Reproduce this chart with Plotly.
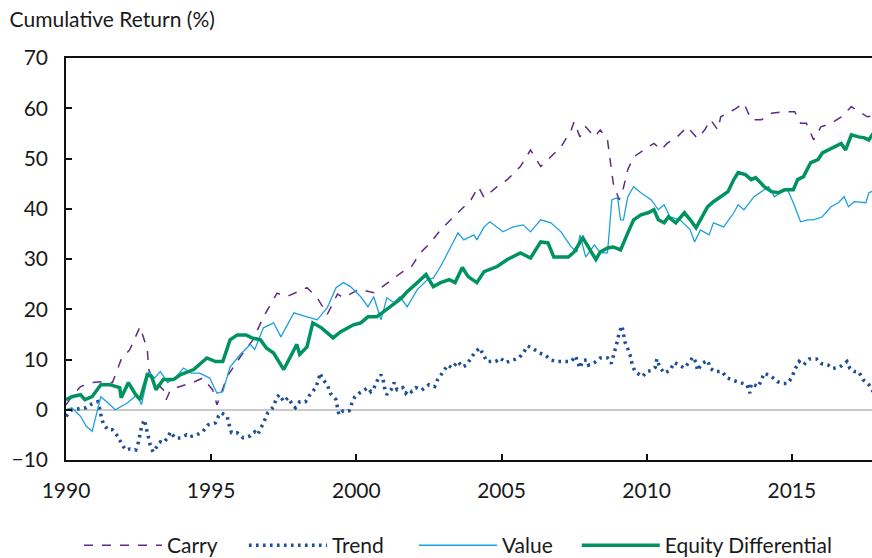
import plotly.graph_objects as go

# ---------------- data ----------------
carry_year = [1990.0, 1990.25, 1990.5, 1990.9, 1991.3, 1991.6, 1991.9, 1992.2, 1992.55, 1992.8,
              1992.85, 1993.0, 1993.35, 1993.45, 1993.6, 1993.9, 1994.4, 1994.7, 1995.05, 1995.2,
              1995.55, 1996.0, 1996.45, 1996.8, 1997.27, 1997.6, 1997.8, 1998.3, 1998.65, 1999.0,
              1999.35, 1999.55, 2000.1, 2000.6, 2000.9, 2001.3, 2001.6, 2001.9, 2002.2, 2002.55,
              2002.9, 2003.25, 2003.6, 2003.95, 2004.2, 2004.4, 2004.85, 2005.2, 2005.65, 2006.0,
              2006.35, 2006.7, 2007.05, 2007.4, 2007.5, 2007.7, 2007.9, 2008.2, 2008.4, 2008.65,
              2008.75, 2008.85, 2009.05, 2009.15, 2009.35, 2009.55, 2009.9, 2010.25, 2010.5, 2010.7,
              2011.05, 2011.4, 2011.75, 2012.0, 2012.2, 2012.45, 2012.55, 2013.0, 2013.35, 2013.6,
              2013.95, 2014.3, 2014.7, 2015.1, 2015.3, 2015.5, 2015.75, 2016.0, 2016.35, 2016.7,
              2017.05, 2017.4, 2017.6, 2017.8]
carry_val = [1.0, 3.0, 4.6, 5.4, 5.6, 5.4, 10.0, 12.0, 16.5, 12.0,
             8.0, 6.0, 4.0, 2.0, 4.0, 4.6, 5.5, 6.3, 4.0, 1.0,
             6.6, 10.5, 14.0, 18.5, 23.2, 22.5, 23.0, 24.3, 22.3, 19.0,
             23.0, 22.3, 24.0, 23.3, 24.5, 26.2, 27.5, 28.5, 31.2, 33.2,
             35.8, 37.8, 39.8, 41.8, 44.4, 42.2, 44.4, 45.8, 48.4, 51.7,
             48.4, 50.3, 52.3, 55.7, 57.3, 54.3, 56.3, 54.3, 55.7, 53.7,
             49.0, 45.0, 41.8, 43.0, 47.8, 50.3, 51.7, 53.0, 51.7, 53.0,
             54.3, 56.3, 54.0, 55.7, 57.7, 55.7, 58.3, 59.7, 61.0, 57.7,
             57.7, 59.0, 59.3, 59.3, 57.0, 57.0, 53.7, 56.3, 57.0, 58.3,
             60.3, 59.0, 58.3, 58.5]

trend_year = [1990.0, 1990.2, 1990.45, 1990.7, 1990.9, 1991.1, 1991.17, 1991.22, 1991.3, 1991.45,
              1991.6, 1991.8, 1991.9, 1992.05, 1992.2, 1992.4, 1992.5, 1992.6, 1992.7, 1992.77,
              1992.85, 1992.9, 1993.0, 1993.1, 1993.25, 1993.35, 1993.5, 1993.6, 1993.75, 1993.95,
              1994.15, 1994.25, 1994.5, 1994.7, 1994.9, 1995.15, 1995.25, 1995.35, 1995.55, 1995.62,
              1995.7, 1995.9, 1996.1, 1996.35, 1996.5, 1996.6, 1996.7, 1996.8, 1996.95, 1997.15,
              1997.25, 1997.35, 1997.5, 1997.65, 1997.8, 1997.9, 1998.05, 1998.25, 1998.4, 1998.6,
              1998.7, 1998.75, 1998.85, 1999.0, 1999.1, 1999.3, 1999.35, 1999.4, 1999.55, 1999.75,
              1999.85, 1999.95, 2000.1, 2000.4, 2000.5, 2000.6, 2000.7, 2000.85, 2000.92, 2000.97,
              2001.05, 2001.2, 2001.3, 2001.4, 2001.6, 2001.7, 2001.8, 2001.9, 2002.05, 2002.25,
              2002.5, 2002.7, 2002.8, 2002.95, 2003.15, 2003.3, 2003.5, 2003.65, 2003.8, 2003.95,
              2004.1, 2004.25, 2004.4, 2004.5, 2004.8, 2004.95, 2005.15, 2005.4, 2005.6, 2005.75,
              2005.9, 2006.1, 2006.3, 2006.5, 2006.7, 2006.9, 2007.2, 2007.4, 2007.55, 2007.62,
              2007.7, 2007.8, 2007.95, 2008.0, 2008.2, 2008.4, 2008.65, 2008.78, 2008.85, 2008.95,
              2009.0, 2009.05, 2009.15, 2009.2, 2009.25, 2009.35, 2009.45, 2009.5, 2009.6, 2009.85,
              2010.0, 2010.15, 2010.3, 2010.35, 2010.45, 2010.6, 2010.8, 2010.95, 2011.1, 2011.3,
              2011.45, 2011.6, 2011.7, 2011.75, 2011.9, 2012.1, 2012.2, 2012.35, 2012.6, 2012.75,
              2013.0, 2013.25, 2013.45, 2013.55, 2013.6, 2013.85, 2013.95, 2014.05, 2014.3, 2014.5,
              2014.7, 2014.85, 2015.0, 2015.1, 2015.25, 2015.4, 2015.6, 2015.85, 2016.0, 2016.25,
              2016.4, 2016.65, 2016.9, 2017.0, 2017.15, 2017.3, 2017.45, 2017.65, 2017.8]
trend_val = [-1.3, 0.0, 0.2, 0.4, 1.2, 1.6, 0.0, -1.6, -3.0, -4.0,
             -4.0, -5.4, -6.6, -8.0, -7.8, -8.0, -6.4, -3.4, -2.0, -3.6,
             -5.4, -7.0, -8.4, -7.6, -6.4, -6.6, -5.6, -4.4, -5.6, -5.6,
             -5.0, -5.4, -5.0, -4.4, -3.0, -2.6, -1.3, -0.6, -1.3, -3.0,
             -4.6, -4.6, -5.6, -5.2, -4.4, -5.0, -3.6, -2.6, -0.6, 0.6,
             2.4, 3.0, 1.6, 2.4, 1.0, 0.4, 1.6, 1.6, 3.0, 4.4,
             6.0, 7.3, 6.0, 5.0, 3.3, 2.0, 0.4, -1.0, -0.2, -0.2,
             1.4, 2.6, 3.3, 4.4, 3.6, 4.2, 5.6, 7.0, 6.0, 4.4,
             3.0, 4.0, 5.4, 4.0, 4.4, 3.3, 4.0, 3.6, 4.4, 3.9,
             5.0, 4.6, 6.0, 7.3, 8.9, 8.3, 9.6, 8.5, 8.9, 10.3,
             11.5, 12.3, 10.5, 9.6, 9.6, 10.3, 9.4, 9.9, 10.3, 11.3,
             12.7, 12.1, 11.3, 10.9, 9.9, 9.6, 9.6, 9.6, 10.7, 9.4,
             8.3, 9.8, 9.9, 8.9, 9.4, 10.3, 10.3, 9.2, 10.7, 12.3,
             13.9, 15.3, 16.7, 15.1, 13.5, 12.1, 10.5, 8.9, 7.6, 6.6,
             7.6, 7.8, 8.5, 10.1, 8.5, 7.3, 7.8, 9.4, 8.9, 8.3,
             9.4, 10.5, 9.4, 7.8, 9.2, 9.8, 8.2, 7.6, 7.6, 6.4,
             5.8, 5.4, 5.0, 3.3, 5.2, 4.6, 6.2, 7.3, 6.6, 5.6,
             5.2, 5.2, 6.4, 8.0, 9.6, 8.9, 10.1, 10.1, 9.2, 8.9,
             8.2, 8.5, 9.6, 8.2, 7.6, 7.6, 6.0, 5.0, 3.6]

value_year = [1990.0, 1990.2, 1990.5, 1990.7, 1990.9, 1991.2, 1991.4, 1991.7, 1992.1, 1992.45,
              1992.6, 1992.85, 1993.05, 1993.25, 1993.5, 1993.75, 1994.05, 1994.3, 1994.6, 1994.95,
              1995.2, 1995.4, 1995.65, 1996.0, 1996.35, 1996.5, 1996.8, 1997.15, 1997.4, 1997.85,
              1998.3, 1998.65, 1999.0, 1999.3, 1999.55, 1999.8, 2000.15, 2000.4, 2000.6, 2000.85,
              2001.05, 2001.3, 2001.5, 2001.75, 2002.1, 2002.45, 2002.65, 2002.9, 2003.25, 2003.5,
              2003.7, 2004.05, 2004.15, 2004.4, 2004.6, 2004.95, 2005.05, 2005.4, 2005.75, 2006.0,
              2006.35, 2006.7, 2007.05, 2007.4, 2007.6, 2007.7, 2007.9, 2008.2, 2008.4, 2008.65,
              2008.8, 2009.0, 2009.1, 2009.2, 2009.35, 2009.55, 2009.8, 2010.15, 2010.4, 2010.6,
              2010.8, 2011.15, 2011.5, 2011.65, 2011.85, 2012.15, 2012.3, 2012.65, 2013.0, 2013.15,
              2013.35, 2013.7, 2014.05, 2014.2, 2014.4, 2014.6, 2014.85, 2015.05, 2015.3, 2015.55,
              2015.75, 2016.05, 2016.35, 2016.6, 2016.8, 2016.95, 2017.15, 2017.55, 2017.65, 2017.8]
value_val = [0.0, 0.4, -1.3, -3.3, -4.3, 2.6, 1.6, 0.0, 1.3, 3.0,
             1.0, 7.6, 6.3, 7.6, 5.4, 6.3, 8.3, 7.3, 7.3, 6.3,
             3.3, 3.6, 8.5, 11.0, 13.0, 12.0, 16.3, 17.3, 14.5, 19.3,
             18.5, 17.9, 20.3, 24.3, 25.3, 24.5, 22.5, 20.5, 22.5, 17.9,
             22.3, 21.3, 22.5, 20.5, 23.9, 25.9, 26.2, 28.5, 32.4, 35.2,
             33.8, 34.8, 33.8, 36.4, 37.4, 35.8, 35.4, 36.4, 36.8, 35.4,
             37.8, 37.2, 35.4, 32.4, 31.4, 34.8, 30.4, 32.8, 31.2, 31.2,
             41.8, 42.2, 37.8, 37.8, 42.4, 44.4, 43.2, 41.8, 39.8, 40.8,
             38.4, 37.8, 35.8, 33.4, 35.8, 34.8, 37.2, 36.4, 39.2, 40.8,
             39.8, 42.4, 43.8, 44.4, 42.4, 43.2, 43.8, 41.2, 37.4, 37.8,
             37.8, 38.4, 40.4, 41.2, 42.4, 40.4, 41.4, 41.2, 43.2, 43.5]

equity_year = [1990.0, 1990.2, 1990.5, 1990.65, 1990.9, 1991.2, 1991.5, 1991.85, 1991.9, 1992.15,
               1992.4, 1992.55, 1992.8, 1992.95, 1993.1, 1993.35, 1993.7, 1993.95, 1994.4, 1994.85,
               1995.15, 1995.4, 1995.65, 1995.9, 1996.2, 1996.4, 1996.7, 1996.9, 1997.15, 1997.5,
               1997.85, 1997.95, 1998.05, 1998.3, 1998.5, 1998.8, 1999.0, 1999.2, 1999.45, 1999.8,
               1999.9, 2000.15, 2000.4, 2000.7, 2001.05, 2001.4, 2001.6, 2001.75, 2002.1, 2002.4,
               2002.65, 2002.9, 2003.2, 2003.4, 2003.65, 2003.85, 2004.15, 2004.4, 2004.85, 2005.2,
               2005.65, 2006.0, 2006.35, 2006.6, 2006.8, 2007.3, 2007.5, 2007.7, 2007.8, 2008.05,
               2008.25, 2008.4, 2008.65, 2008.85, 2009.1, 2009.35, 2009.55, 2009.8, 2010.05, 2010.25,
               2010.4, 2010.6, 2010.75, 2011.0, 2011.3, 2011.5, 2011.7, 2011.85, 2012.1, 2012.3,
               2012.55, 2012.8, 2013.0, 2013.15, 2013.4, 2013.6, 2013.75, 2014.05, 2014.3, 2014.55,
               2014.75, 2015.05, 2015.2, 2015.4, 2015.65, 2015.9, 2016.05, 2016.25, 2016.45, 2016.7,
               2016.85, 2017.05, 2017.3, 2017.5, 2017.65, 2017.8]
equity_val = [2.0, 2.6, 3.0, 2.0, 2.6, 5.0, 5.0, 4.4, 2.4, 5.4,
              3.0, 2.0, 7.0, 6.6, 4.0, 6.0, 6.0, 7.0, 8.0, 10.3,
              9.6, 9.6, 13.9, 14.9, 14.9, 14.3, 13.9, 12.3, 11.3, 8.0,
              11.9, 13.0, 11.0, 12.5, 17.3, 16.3, 15.3, 14.3, 15.5, 16.5,
              16.9, 17.3, 18.5, 18.5, 19.9, 21.5, 22.5, 23.5, 25.3, 26.9,
              24.5, 25.3, 25.9, 25.3, 28.3, 26.5, 25.3, 27.5, 28.5, 29.9,
              31.2, 30.2, 33.4, 33.2, 30.4, 30.4, 31.4, 33.2, 34.2, 31.8,
              29.9, 31.4, 32.2, 32.4, 31.8, 35.2, 37.8, 38.8, 39.2, 39.8,
              37.8, 37.2, 38.4, 37.2, 39.2, 37.8, 36.2, 37.8, 40.4, 41.4,
              42.4, 43.4, 45.8, 47.2, 46.8, 45.8, 46.2, 44.4, 43.4, 43.2,
              43.8, 43.8, 45.8, 46.4, 49.2, 49.8, 51.1, 51.7, 52.3, 53.0,
              51.7, 54.7, 54.3, 54.1, 53.7, 55.0]

x_tick_vals = [1990, 1995, 2000, 2005, 2010, 2015]
x_tick_text = ["1990", "1995", "2000", "2005", "2010", "2015"]
y_tick_vals = [-10, 0, 10, 20, 30, 40, 50, 60, 70]

# ---------------- figure ----------------
FONT = "Lato, 'Open Sans', sans-serif"
TXT = "#1a1a1a"
fig = go.Figure()
fig.add_trace(go.Scatter(x=carry_year, y=carry_val, name="Carry", mode="lines", legend="legend",
                         line=dict(color="#5b2d86", width=1.5, dash="dash")))
fig.add_trace(go.Scatter(x=trend_year, y=trend_val, name="Trend", mode="lines", legend="legend2",
                         line=dict(color="#1c4f95", width=3.5, dash="2.6px,4.4px")))
fig.add_trace(go.Scatter(x=value_year, y=value_val, name="Value", mode="lines", legend="legend3",
                         line=dict(color="#1ca1dc", width=1.3)))
fig.add_trace(go.Scatter(x=equity_year, y=equity_val, name="Equity Differential", mode="lines",
                         legend="legend4", line=dict(color="#00935e", width=3.5)))

leg_common = dict(orientation="h", xanchor="left", y=-0.162, yanchor="top",
                  font=dict(family=FONT, size=21, color=TXT), itemwidth=78,
                  bgcolor="rgba(0,0,0,0)", borderwidth=0)

fig.update_layout(
    width=872, height=558,
    margin=dict(l=66, r=0, t=58, b=98, autoexpand=False),
    paper_bgcolor="white", plot_bgcolor="white",
    font=dict(family=FONT, size=21, color=TXT),
    title=dict(text="Cumulative Return (%)", x=0.011, xanchor="left", xref="container",
               y=0.964, yref="container", yanchor="middle",
               font=dict(family=FONT, size=21, color=TXT)),
    showlegend=True,
    legend=dict(x=0.0161, **leg_common),
    legend2=dict(x=0.2208, **leg_common),
    legend3=dict(x=0.4317, **leg_common),
    legend4=dict(x=0.6337, **leg_common),
    xaxis=dict(range=[1990, 2017.76], tickvals=x_tick_vals, ticktext=x_tick_text,
               showgrid=False, zeroline=False, showline=True, linecolor="#111",
               linewidth=1.5, mirror=True, ticks="inside", ticklen=6, tickwidth=1.5,
               tickcolor="#111", ticklabelstandoff=11),
    yaxis=dict(range=[-10, 70], tickvals=y_tick_vals, showgrid=False,
               zeroline=True, zerolinecolor="#c9c9c9", zerolinewidth=2,
               showline=True, linecolor="#111", linewidth=1.5, mirror=False,
               ticks="inside", ticklen=6, tickwidth=1.5, tickcolor="#111",
               ticklabelstandoff=12),
)

fig.write_html("out.html", config={"displayModeBar": False},
               post_script="document.body.style.margin='0';document.body.style.overflow='hidden';")
